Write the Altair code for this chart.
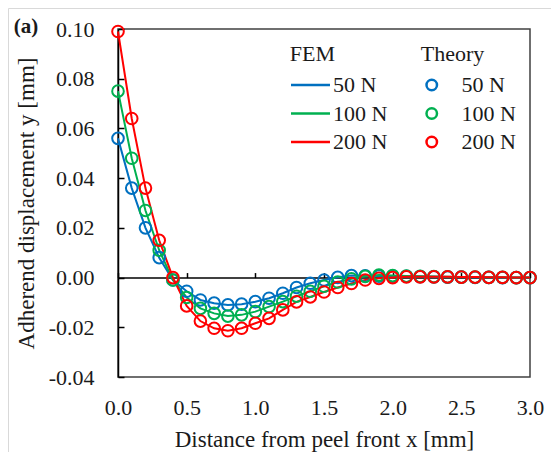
import altair as alt
import pandas as pd

# ---------------- data ----------------
x_mm = [0.0, 0.1, 0.2, 0.3, 0.4, 0.5, 0.6, 0.7, 0.8, 0.9, 1.0,
        1.1, 1.2, 1.3, 1.4, 1.5, 1.6, 1.7, 1.8, 1.9, 2.0,
        2.1, 2.2, 2.3, 2.4, 2.5, 2.6, 2.7, 2.8, 2.9, 3.0]

loads = ["50 N", "100 N", "200 N"]

# FEM curves (lines)
fem_50 = [0.056, 0.036, 0.020, 0.008, -0.001, -0.0055, -0.009, -0.0103, -0.011, -0.0107, -0.0097,
          -0.0083, -0.0063, -0.004, -0.0023, -0.001, 0.0001, 0.0008, 0.0007, 0.0006, 0.0006,
          0.0005, 0.0004, 0.0003, 0.0002, 0.0002, 0.0001, 0.0001, 0.0, 0.0, 0.0]
fem_100 = [0.075, 0.048, 0.027, 0.011, -0.001, -0.008, -0.0124, -0.0144, -0.0155, -0.015, -0.0137,
           -0.0117, -0.0097, -0.0075, -0.0055, -0.0035, -0.0018, -0.0005, 0.0005, 0.001, 0.0008,
           0.0006, 0.0005, 0.0004, 0.0003, 0.0002, 0.0002, 0.0001, 0.0001, 0.0, 0.0]
fem_200 = [0.099, 0.064, 0.036, 0.015, 0.0, -0.0114, -0.0175, -0.0204, -0.0214, -0.0204, -0.0184,
           -0.0164, -0.013, -0.0098, -0.0078, -0.0058, -0.004, -0.0024, -0.001, -0.0003, 0.0,
           0.0003, 0.0003, 0.0003, 0.0003, 0.0002, 0.0002, 0.0001, 0.0001, 0.0, 0.0]

# Theory (open circles)
th_50 = [0.056, 0.036, 0.020, 0.008, -0.001, -0.0055, -0.009, -0.0103, -0.011, -0.0107, -0.0097,
         -0.0083, -0.0063, -0.004, -0.0023, -0.001, 0.0001, 0.0008, 0.0007, 0.0006, 0.0006,
         0.0005, 0.0004, 0.0003, 0.0002, 0.0002, 0.0001, 0.0001, 0.0, 0.0, 0.0]
th_100 = [0.075, 0.048, 0.027, 0.011, -0.001, -0.008, -0.0124, -0.0144, -0.0155, -0.015, -0.0137,
          -0.0117, -0.0097, -0.0075, -0.0055, -0.0035, -0.0018, -0.0005, 0.0005, 0.001, 0.0008,
          0.0006, 0.0005, 0.0004, 0.0003, 0.0002, 0.0002, 0.0001, 0.0001, 0.0, 0.0]
th_200 = [0.099, 0.064, 0.036, 0.015, 0.0, -0.0114, -0.0175, -0.0204, -0.0214, -0.0204, -0.0184,
          -0.0164, -0.013, -0.0098, -0.0078, -0.0058, -0.004, -0.0024, -0.001, -0.0003, 0.0,
          0.0003, 0.0003, 0.0003, 0.0003, 0.0002, 0.0002, 0.0001, 0.0001, 0.0, 0.0]

x_ticks = [0.0, 0.5, 1.0, 1.5, 2.0, 2.5, 3.0]
y_ticks = [-0.04, -0.02, 0.0, 0.02, 0.04, 0.06, 0.08, 0.10]
colors = ["#0070C0", "#00B050", "#FF0000"]

# ---------------- layout / style ----------------
W, H = 412, 348
X_DOMAIN = [0.0, 3.0]
Y_DOMAIN = [-0.04, 0.10]
FONT = "Liberation Serif"
TXT = "#1a1a1a"
zero_offset = -(Y_DOMAIN[1] - 0.0) / (Y_DOMAIN[1] - Y_DOMAIN[0]) * H


def frame(source, series):
    rows = []
    for load, ys in zip(loads, series):
        for x, y in zip(x_mm, ys):
            rows.append({"source": source, "load": load, "x": x, "y": y})
    return pd.DataFrame(rows)


fem_df = frame("FEM", [fem_50, fem_100, fem_200])
th_df = frame("Theory", [th_50, th_100, th_200])

xs = alt.Scale(domain=X_DOMAIN, nice=False, zero=False)
ys = alt.Scale(domain=Y_DOMAIN, nice=False, zero=False)

legend_common = dict(
    orient="none", padding=0, direction="vertical",
    labelFont=FONT, labelFontSize=22, labelColor=TXT,
    titleFont=FONT, titleFontSize=22, titleFontWeight="normal", titleColor=TXT,
    titlePadding=8, rowPadding=6.5, symbolStrokeWidth=2.5,
)

lines = alt.Chart(fem_df).mark_line(strokeWidth=2).encode(
    x=alt.X("x:Q", scale=xs, axis=alt.Axis(
        orient="bottom", values=x_ticks, format=".1f", grid=False, labelFlush=False,
        domain=False, ticks=False, tickSize=0, labelPadding=20.5,
        labelFont=FONT, labelFontSize=22, labelColor=TXT,
        title="Distance from peel front x [mm]", titleFont=FONT, titleFontSize=23,
        titleFontWeight="normal", titleColor=TXT, titlePadding=10)),
    y=alt.Y("y:Q", scale=ys, axis=alt.Axis(
        orient="left", values=y_ticks, grid=False, labelFlush=False,
        labelExpr="replace(format(datum.value, '.2f'), '\u2212', '-')",
        domain=False, ticks=False, tickSize=0, labelPadding=24,
        labelFont=FONT, labelFontSize=22, labelColor=TXT,
        title="Adherend displacement y [mm]", titleFont=FONT, titleFontSize=23,
        titleFontWeight="normal", titleColor=TXT, titlePadding=10)),
    color=alt.Color("load:N", sort=loads, scale=alt.Scale(range=colors),
                    legend=alt.Legend(title="FEM", legendX=171.75, legendY=15,
                                      symbolType="M-1,0H3", symbolSize=380,
                                      labelOffset=21.25, **legend_common)),
)

points = alt.Chart(th_df).mark_point(filled=False, size=135, strokeWidth=2, opacity=1).encode(
    x=alt.X("x:Q", scale=xs, title=None, axis=alt.Axis(
        orient="top", offset=zero_offset, values=x_ticks, labels=False, grid=False,
        domain=True, domainColor="#000000", domainWidth=1.5,
        ticks=True, tickSize=5, tickColor="#000000", tickWidth=1.5)),
    y=alt.Y("y:Q", scale=ys, title=None, axis=alt.Axis(
        orient="right", offset=-W, values=y_ticks, labels=False, grid=False,
        domain=True, domainColor="#000000", domainWidth=1.5,
        ticks=True, tickSize=6, tickColor="#000000", tickWidth=1.5)),
    stroke=alt.Stroke("load:N", sort=loads, scale=alt.Scale(range=colors),
                      legend=alt.Legend(title="Theory", legendX=302.75, legendY=15,
                                        symbolType="circle", symbolSize=110,
                                        labelOffset=18.75, **legend_common)),
)

border = alt.Chart(pd.DataFrame({"k": [0]})).mark_rect(
    fillOpacity=0, stroke="#d9d9d9", strokeWidth=1
).encode(x=alt.value(-109.5), x2=alt.value(W + 200), y=alt.value(-20.5), y2=alt.value(H + 200))

panel_label = alt.Chart(pd.DataFrame({"t": ["(a)"]})).mark_text(
    font=FONT, fontSize=21, fontWeight="bold", align="center", baseline="middle", color=TXT
).encode(text="t:N", x=alt.value(-92), y=alt.value(-2))

chart = alt.layer(border, lines, points, panel_label).resolve_axis(
    x="independent", y="independent"
).properties(
    width=W, height=H,
    autosize=alt.AutoSizeParams(type="none"),
    padding={"left": 110, "top": 21, "right": 21, "bottom": 75},
    background="white",
).configure_view(stroke="#404040", strokeWidth=1.5)

chart.save("out.html", embed_options={"renderer": "svg", "actions": False})
